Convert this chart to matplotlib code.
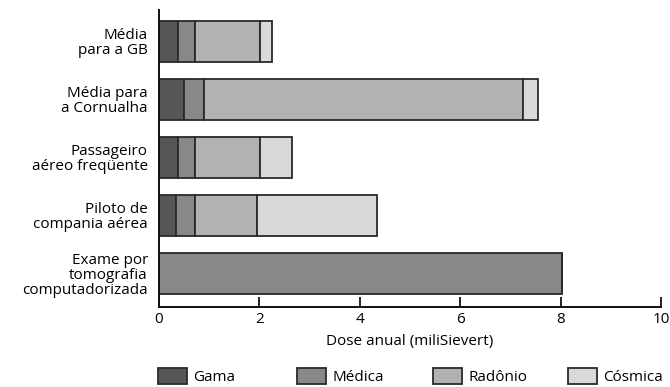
import matplotlib
matplotlib.use("Agg")
import matplotlib.pyplot as plt
from matplotlib.patches import Patch
import numpy as np

plt.rcParams['font.family'] = ['Open Sans', 'DejaVu Sans']

categories = ["Média\npara a GB", "Média para\na Cornualha", "Passageiro\naéreo freqüente",
              "Piloto de\ncompania aérea", "Exame por\ntomografia\ncomputadorizada"]
series_names = ["Gama", "Médica", "Radônio", "Cósmica"]
gama = [0.37, 0.49, 0.37, 0.33, 0.0]
medica = [0.35, 0.40, 0.35, 0.39, 8.02]
radonio = [1.29, 6.36, 1.29, 1.24, 0.0]
cosmica = [0.25, 0.29, 0.64, 2.39, 0.0]
colors = ["#565656", "#888888", "#b2b2b2", "#d9d9d9"]
xticks = [0, 2, 4, 6, 8, 10]
xlabel = "Dose anual (miliSievert)"

FS = 11

fig = plt.figure(figsize=(6.7, 3.87), dpi=100)
ax = fig.add_axes([159/670, 80/387, 502/670, 297/387])

y = np.arange(len(categories))
left = np.zeros(len(categories))
for vals, col, name in zip([gama, medica, radonio, cosmica], colors, series_names):
    ax.barh(y, vals, left=left, height=0.71, color=col, edgecolor="#2a2a2a",
            linewidth=1.3, label=name)
    left = left + np.array(vals)

ax.set_xlim(0, 10)
ax.set_ylim(4.58, -0.54)
ax.set_xticks(xticks)
ax.set_xticklabels([str(t) for t in xticks])
ax.set_yticks(y)
ax.set_yticklabels(categories, fontsize=FS, ha="right", linespacing=1.0)
ax.tick_params(axis="y", length=0, pad=8)
ax.tick_params(axis="x", direction="in", length=7, width=1.3, labelsize=FS, pad=3.5, color="#111111")
ax.set_xlabel(xlabel, fontsize=FS, labelpad=5)
for s in ["top", "right"]:
    ax.spines[s].set_visible(False)
for s in ["left", "bottom"]:
    ax.spines[s].set_linewidth(1.4)
    ax.spines[s].set_color("#111111")

# legend: one entry per series, placed along the bottom
xs = [158, 297, 433, 568]
for name, col, xp in zip(series_names, colors, xs):
    h = [Patch(facecolor=col, edgecolor="#2a2a2a", linewidth=1.3)]
    fig.legend(h, [name], loc="center left", bbox_to_anchor=(xp/670, 10.5/387),
               frameon=False, fontsize=FS, handlelength=1.9, handleheight=1.25,
               handletextpad=0.4, borderpad=0, borderaxespad=0)

fig.savefig("out.png", dpi=100)
